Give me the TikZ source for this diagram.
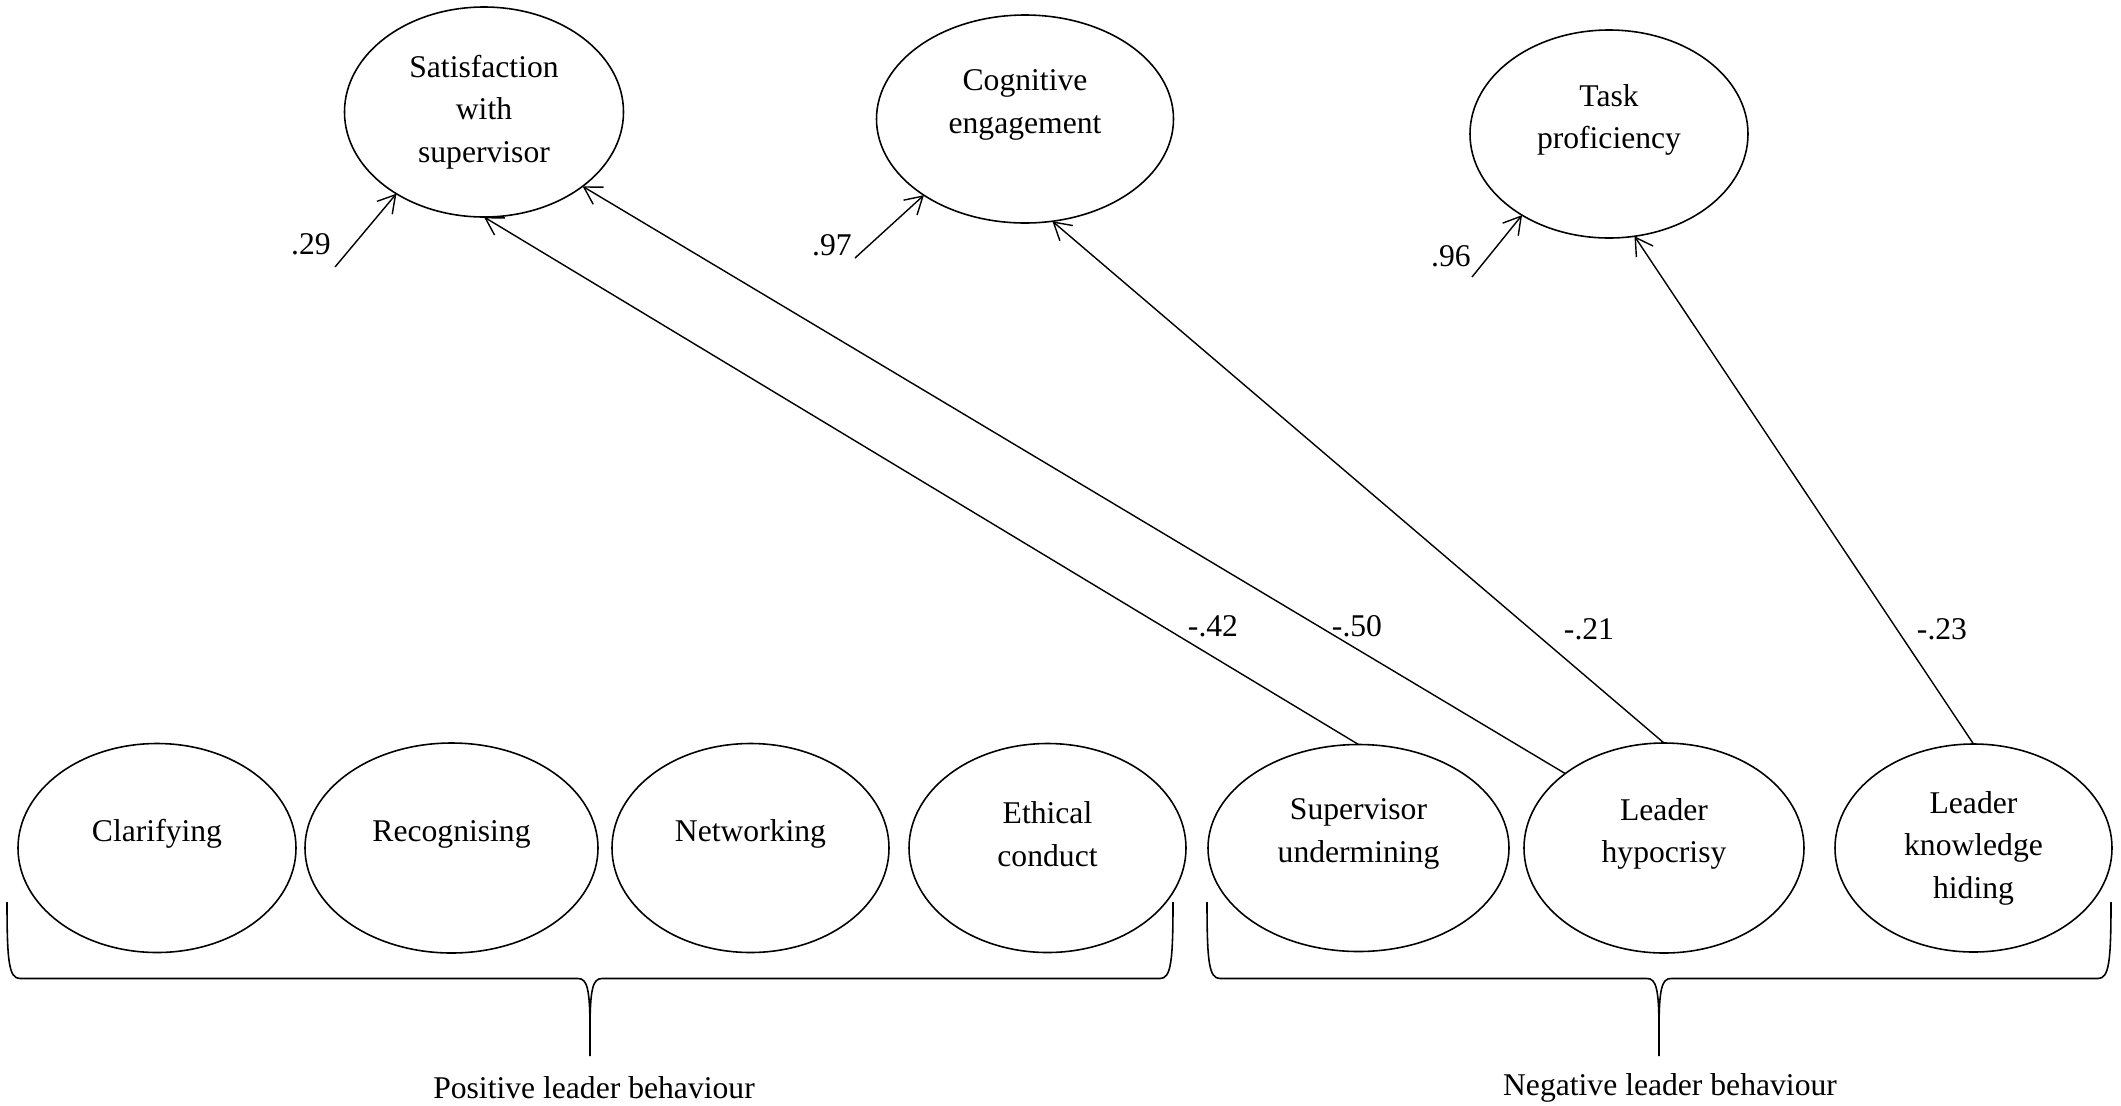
\documentclass[tikz,border=0pt]{standalone}
\usepackage{fontspec}
\setmainfont{Liberation Serif}
\usetikzlibrary{shapes.geometric,positioning,calc,arrows.meta}

\begin{document}
\begin{tikzpicture}[
    font=\fontsize{9}{12.1}\selectfont,
    latent/.style={ellipse, draw, line width=0.45pt, minimum width=2.78cm, minimum height=2.09cm, inner sep=0pt, outer sep=0pt},
    caption/.style={align=center, yshift=1.4mm},
    effect/.style={-{Straight Barb[length=1.7mm,width=2mm]}, line width=0.4pt},
    brace/.style={line width=0.45pt}
]
    \useasboundingbox (0,0) rectangle (21.21,-11.05);

    \node[latent, minimum width=2.79cm, minimum height=2.10cm, label={[align=center]center:Satisfaction\\with\\supervisor}] (sat) at (4.84,-1.12) {};
    \node[latent, minimum width=2.97cm, minimum height=2.08cm, label={[caption]center:Cognitive\\engagement}] (cog) at (10.25,-1.19) {};
    \node[latent, minimum height=2.08cm, label={[caption]center:Task\\proficiency}] (task) at (16.09,-1.34) {};

    \node[latent, label={[caption]center:Clarifying}] (clar) at (1.57,-8.48) {};
    \node[latent, minimum width=2.93cm, minimum height=2.10cm, right=0.09cm of clar, label={[caption]center:Recognising}] (recog) {};
    \node[latent, minimum width=2.77cm, right=0.14cm of recog, label={[caption]center:Networking}] (netw) {};
    \node[latent, minimum width=2.77cm, right=0.20cm of netw, label={[caption]center:Ethical\\conduct}] (ethic) {};
    \node[latent, minimum width=3.01cm, minimum height=2.07cm, right=0.22cm of ethic, label={[caption]center:Supervisor\\undermining}] (under) {};
    \node[latent, minimum width=2.80cm, minimum height=2.10cm, right=0.15cm of under, label={[caption]center:Leader\\hypocrisy}] (hypo) {};
    \node[latent, minimum width=2.77cm, minimum height=2.08cm, right=0.31cm of hypo, label={[align=center]center:Leader\\knowledge\\hiding}] (hide) {};

    \coordinate (e1) at (3.35,-2.67);
    \coordinate (e2) at (8.55,-2.58);
    \coordinate (e3) at (14.72,-2.77);

    \draw[effect] (e1) -- (sat.223);
    \draw[effect] (e2) -- (cog.217);
    \draw[effect] (e3) -- (task.223);

    \draw[effect] (under.north) -- (sat.south);
    \draw[effect] (hypo.143) -- (sat.-37);
    \draw[effect] (hypo.north) -- (cog.-75);
    \draw[effect] (hide.north) -- (task.-76);

    \node (r29) at (3.11,-2.44) {.29};
    \node (r97) at (8.32,-2.45) {.97};
    \node (r96) at (14.51,-2.56) {.96};
    \node (p42) at (12.13,-6.26) {-.42};
    \node (p50) at (13.57,-6.26) {-.50};
    \node (p21) at (15.89,-6.29) {-.21};
    \node (p23) at (19.42,-6.29) {-.23};

    % group braces
    \foreach \xl/\xm/\xr in {0.07/5.90/11.73, 12.07/16.59/21.11} {
        \draw[brace] (\xl,-9.02) .. controls (\xl,-9.62) and (\xl+0.02,-9.785) .. (\xl+0.13,-9.785)
            -- (\xm-0.12,-9.785) .. controls (\xm-0.03,-9.785) and (\xm,-9.88) .. (\xm,-10.30) -- (\xm,-10.56)
            (\xm,-10.30) .. controls (\xm,-9.88) and (\xm+0.03,-9.785) .. (\xm+0.12,-9.785)
            -- (\xr-0.13,-9.785) .. controls (\xr-0.02,-9.785) and (\xr,-9.62) .. (\xr,-9.02);
    }

    \node (poslbl) at (5.94,-10.88) {Positive leader behaviour};
    \node (neglbl) at (16.70,-10.88) {Negative leader behaviour};
\end{tikzpicture}
\end{document}
